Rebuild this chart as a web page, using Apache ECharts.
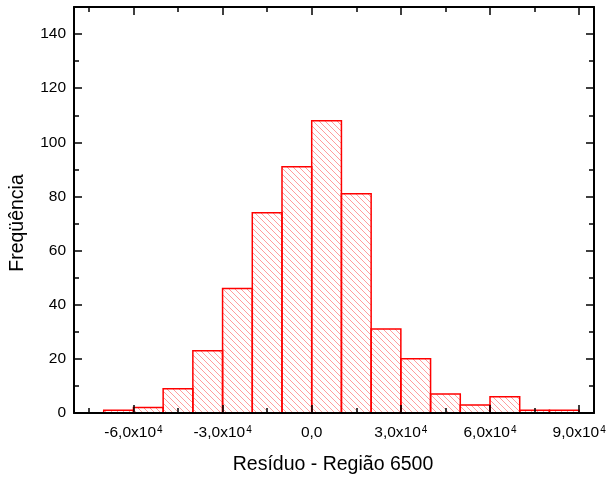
<!DOCTYPE html>
<html>
<head>
<meta charset="utf-8">
<script src="https://cdn.jsdelivr.net/npm/echarts@6/dist/echarts.min.js"></script>
<style>
html,body{margin:0;padding:0;background:#fff;}
#chart{width:607px;height:478px;}
</style>
</head>
<body>
<div id="chart"></div>
<script>
// ---- data ----
const binStarts = [-70000,-60000,-50000,-40000,-30000,-20000,-10000,0,10000,20000,30000,40000,50000,60000,70000,80000];
const binWidth = 10000;
const counts = [1,2,9,23,46,74,91,108,81,31,20,7,3,6,1,1];
const xMajorTicks = [-60000,-30000,0,30000,60000,90000];
const xMinorTicks = [-75000,-45000,-15000,15000,45000,75000];
const yMajorTicks = [0,20,40,60,80,100,120,140];
const yMinorTicks = [10,30,50,70,90,110,130];
const xRange = [-80000, 95000];
const yRange = [0, 150];
const xTitle = 'Resíduo - Região 6500';
const yTitle = 'Freqüência';

// ---- hatch pattern ----
function makeHatch() {
  const s = 6;
  const c = document.createElement('canvas');
  c.width = s; c.height = s;
  const g = c.getContext('2d');
  g.strokeStyle = 'rgba(255,60,60,0.5)';
  g.lineWidth = 1;
  g.beginPath();
  g.moveTo(-1, -1); g.lineTo(s + 1, s + 1);
  g.moveTo(-1, s - 1); g.lineTo(1, s + 1);
  g.moveTo(s - 1, -1); g.lineTo(s + 1, 1);
  g.stroke();
  return c;
}
const hatch = makeHatch();

const FONT = 'Liberation Sans, Arial, sans-serif';

function xLabelFmt(v) {
  if (v === 0) return '0,0';
  const m = (v / 10000).toFixed(1).replace('.', ',');
  return m + 'x10{s|4}';
}

const axisLineStyle = { color: '#000', width: 2 };
function xAxisDef(pos, ticks, len, labels, line) {
  return {
    type: 'value', position: pos, min: xRange[0], max: xRange[1], z: 10,
    axisLine: { show: line, onZero: false, lineStyle: axisLineStyle },
    axisTick: { show: true, inside: true, length: len, customValues: ticks, lineStyle: { color: '#000', width: 1.5 } },
    axisLabel: labels ? {
      show: true, customValues: ticks, margin: 12, color: '#000', fontSize: 15.5, fontFamily: FONT,
      formatter: xLabelFmt,
      rich: { s: { fontSize: 10, fontFamily: FONT, color: '#000', verticalAlign: 'top', lineHeight: 10, padding: [0,0,0,1] } }
    } : { show: false },
    splitLine: { show: false }
  };
}
function yAxisDef(pos, ticks, len, labels, line) {
  return {
    type: 'value', position: pos, min: yRange[0], max: yRange[1], z: 10,
    axisLine: { show: line, onZero: false, lineStyle: axisLineStyle },
    axisTick: { show: true, inside: true, length: len, customValues: ticks, lineStyle: { color: '#000', width: 1.5 } },
    axisLabel: labels ? { show: true, customValues: ticks, margin: 8, color: '#000', fontSize: 15.5, fontFamily: FONT } : { show: false },
    splitLine: { show: false }
  };
}

const chart = echarts.init(document.getElementById('chart'), null, { renderer: 'canvas' });
chart.setOption({
  animation: false,
  backgroundColor: '#fff',
  grid: { left: 74, right: 13, top: 7, bottom: 65, containLabel: false, outerBoundsMode: 'none' },
  xAxis: [
    xAxisDef('bottom', xMajorTicks, 8, true, true),
    xAxisDef('bottom', xMinorTicks, 5, false, false),
    xAxisDef('top', xMajorTicks, 8, false, true),
    xAxisDef('top', xMinorTicks, 5, false, false)
  ],
  yAxis: [
    yAxisDef('left', yMajorTicks, 8, true, true),
    yAxisDef('left', yMinorTicks, 5, false, false),
    yAxisDef('right', yMajorTicks, 8, false, true),
    yAxisDef('right', yMinorTicks, 5, false, false)
  ],
  graphic: [
    { type: 'text', x: 333, y: 465, style: { text: xTitle, font: '19.5px ' + FONT, fill: '#000', align: 'center', verticalAlign: 'middle' } },
    { type: 'text', x: 8, y: 223, rotation: Math.PI / 2, style: { text: yTitle, font: '19.5px ' + FONT, fill: '#000', align: 'center', verticalAlign: 'top' } }
  ],
  series: [{
    type: 'custom',
    xAxisIndex: 0, yAxisIndex: 0,
    data: binStarts.map((b, i) => [b, counts[i]]),
    renderItem: function (params, api) {
      const x0 = api.value(0), h = api.value(1);
      const p0 = api.coord([x0, h]);
      const p1 = api.coord([x0 + binWidth, 0]);
      return {
        type: 'rect',
        shape: { x: p0[0], y: p0[1], width: p1[0] - p0[0], height: p1[1] - p0[1] },
        style: { fill: { image: hatch, repeat: 'repeat' }, stroke: '#ff0000', lineWidth: 1.5 }
      };
    }
  }]
});
</script>
</body>
</html>
